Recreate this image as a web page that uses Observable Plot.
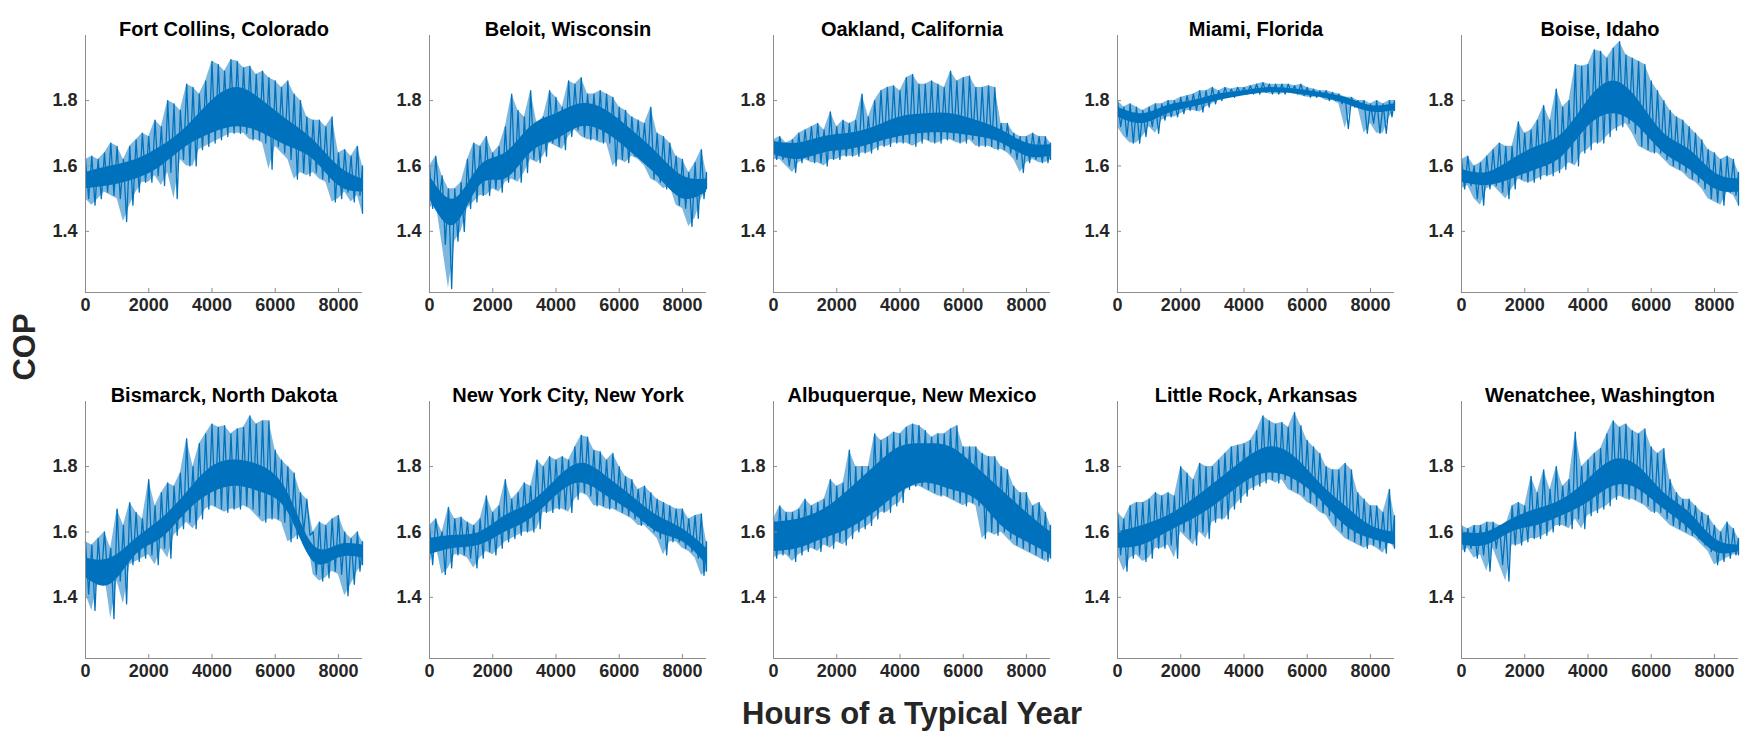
<!DOCTYPE html>
<html><head><meta charset="utf-8">
<script src="https://cdn.jsdelivr.net/npm/d3@7"></script>
<script src="https://cdn.jsdelivr.net/npm/@observablehq/plot@0.6"></script>
<style>
body{margin:0;background:#fff;}
#root{position:relative;width:1756px;height:737px;overflow:hidden;font-family:"Liberation Sans",Arial,Helvetica,sans-serif;}
.panel{position:absolute;width:344px;}
.panel svg{overflow:visible;}
#ylab{position:absolute;left:25px;top:347px;transform:translate(-50%,-50%) rotate(-90deg);font-size:31px;font-weight:bold;color:#262626;white-space:nowrap;}
#xlab{position:absolute;left:912px;top:714px;transform:translate(-50%,-50%);font-size:31px;font-weight:bold;color:#262626;white-space:nowrap;}
</style></head><body><div id="root"><div id="ylab">COP</div><div id="xlab">Hours of a Typical Year</div></div>
<script>
// ---- data (COP per typical-year hour) ----
const HOURS = [0,200,400,600,800,1000,1200,1400,1600,1800,2000,2200,2400,2600,2800,3000,3200,3400,3600,3800,4000,4200,4400,4600,4800,5000,5200,5400,5600,5800,6000,6200,6400,6600,6800,7000,7200,7400,7600,7800,8000,8200,8400,8600,8760];
const CORE_HOURS = [0,800,1600,2400,3200,4000,4800,5600,6400,7200,8000,8760];
const CITY_NAMES = ["Fort Collins, Colorado","Beloit, Wisconsin","Oakland, California","Miami, Florida","Boise, Idaho","Bismarck, North Dakota","New York City, New York","Albuquerque, New Mexico","Little Rock, Arkansas","Wenatchee, Washington"];
const X_TICKS = [0,2000,4000,6000,8000];
const Y_TICKS = [1.4,1.6,1.8];
const Y_DOMAIN = [1.213,1.999];
const X_DOMAIN = [0,8760];

const fortCollinsHi = [1.62,1.63,1.62,1.64,1.67,1.66,1.62,1.66,1.68,1.70,1.69,1.74,1.72,1.80,1.79,1.77,1.85,1.84,1.82,1.86,1.92,1.91,1.89,1.925,1.92,1.90,1.905,1.88,1.89,1.87,1.86,1.84,1.86,1.82,1.80,1.75,1.74,1.74,1.72,1.75,1.64,1.65,1.63,1.66,1.60];
const fortCollinsLo = [1.50,1.48,1.50,1.52,1.51,1.50,1.43,1.48,1.52,1.55,1.55,1.57,1.54,1.58,1.50,1.62,1.60,1.60,1.65,1.66,1.67,1.68,1.69,1.70,1.70,1.70,1.68,1.68,1.67,1.59,1.66,1.64,1.62,1.56,1.58,1.57,1.58,1.56,1.55,1.49,1.50,1.52,1.49,1.51,1.455];
const fortCollinsCoreHi = [1.58,1.60,1.62,1.66,1.72,1.80,1.84,1.80,1.74,1.68,1.60,1.56];
const fortCollinsCoreLo = [1.53,1.54,1.56,1.60,1.66,1.70,1.72,1.70,1.66,1.62,1.54,1.52];

const beloitHi = [1.60,1.63,1.57,1.53,1.53,1.55,1.62,1.67,1.66,1.69,1.64,1.66,1.72,1.82,1.77,1.75,1.83,1.73,1.75,1.83,1.81,1.78,1.86,1.85,1.87,1.82,1.82,1.83,1.82,1.81,1.78,1.77,1.75,1.74,1.73,1.78,1.70,1.69,1.67,1.63,1.62,1.58,1.61,1.65,1.58];
const beloitLo = [1.47,1.49,1.36,1.225,1.37,1.40,1.47,1.49,1.51,1.51,1.53,1.52,1.55,1.56,1.55,1.58,1.62,1.61,1.63,1.67,1.66,1.65,1.69,1.71,1.69,1.68,1.68,1.67,1.67,1.60,1.62,1.61,1.63,1.62,1.60,1.56,1.55,1.53,1.54,1.48,1.47,1.415,1.44,1.50,1.53];
const beloitCoreHi = [1.57,1.50,1.60,1.64,1.72,1.76,1.79,1.77,1.71,1.64,1.57,1.56];
const beloitCoreLo = [1.50,1.42,1.54,1.56,1.64,1.68,1.72,1.70,1.64,1.57,1.50,1.52];

const oaklandHi = [1.68,1.69,1.67,1.68,1.70,1.71,1.72,1.73,1.71,1.765,1.72,1.74,1.73,1.74,1.82,1.75,1.80,1.83,1.84,1.845,1.83,1.87,1.88,1.85,1.85,1.86,1.85,1.84,1.89,1.86,1.87,1.875,1.84,1.84,1.845,1.84,1.73,1.73,1.70,1.69,1.69,1.70,1.69,1.69,1.67];
const oaklandLo = [1.62,1.62,1.60,1.58,1.61,1.62,1.61,1.61,1.60,1.62,1.62,1.63,1.63,1.63,1.64,1.64,1.65,1.66,1.66,1.67,1.67,1.67,1.66,1.67,1.68,1.67,1.67,1.68,1.68,1.67,1.67,1.68,1.66,1.66,1.66,1.65,1.65,1.64,1.62,1.58,1.61,1.62,1.61,1.61,1.62];
const oaklandCoreHi = [1.675,1.67,1.69,1.70,1.72,1.75,1.76,1.76,1.74,1.71,1.67,1.665];
const oaklandCoreLo = [1.635,1.62,1.64,1.65,1.67,1.69,1.70,1.70,1.69,1.67,1.63,1.63];

const miamiHi = [1.80,1.78,1.79,1.78,1.77,1.78,1.79,1.79,1.80,1.80,1.81,1.815,1.82,1.83,1.83,1.84,1.83,1.84,1.835,1.84,1.84,1.845,1.85,1.855,1.85,1.85,1.85,1.85,1.845,1.85,1.84,1.835,1.83,1.83,1.825,1.82,1.81,1.81,1.80,1.80,1.79,1.80,1.79,1.80,1.80];
const miamiLo = [1.72,1.69,1.67,1.67,1.69,1.72,1.70,1.74,1.75,1.75,1.76,1.77,1.77,1.765,1.78,1.79,1.80,1.81,1.81,1.82,1.82,1.82,1.82,1.825,1.82,1.82,1.82,1.825,1.82,1.815,1.81,1.81,1.81,1.80,1.80,1.79,1.715,1.78,1.78,1.70,1.73,1.70,1.70,1.75,1.77];
const miamiCoreHi = [1.78,1.76,1.785,1.80,1.82,1.83,1.84,1.835,1.825,1.81,1.785,1.79];
const miamiCoreLo = [1.75,1.73,1.76,1.78,1.80,1.815,1.825,1.82,1.81,1.79,1.765,1.77];

const boiseHi = [1.62,1.63,1.60,1.61,1.63,1.65,1.67,1.66,1.66,1.735,1.70,1.71,1.74,1.785,1.74,1.835,1.78,1.80,1.91,1.905,1.91,1.955,1.95,1.93,1.96,1.98,1.94,1.93,1.92,1.91,1.86,1.83,1.80,1.77,1.75,1.74,1.72,1.70,1.68,1.65,1.64,1.62,1.63,1.62,1.58];
const boiseLo = [1.53,1.54,1.50,1.48,1.53,1.54,1.52,1.50,1.53,1.56,1.55,1.55,1.56,1.57,1.57,1.58,1.59,1.61,1.60,1.64,1.65,1.67,1.67,1.69,1.71,1.72,1.73,1.70,1.66,1.65,1.64,1.64,1.62,1.60,1.59,1.58,1.56,1.55,1.53,1.50,1.49,1.48,1.52,1.51,1.48];
const boiseCoreHi = [1.59,1.58,1.62,1.66,1.70,1.80,1.86,1.80,1.70,1.65,1.58,1.56];
const boiseCoreLo = [1.55,1.54,1.56,1.59,1.63,1.72,1.76,1.72,1.64,1.59,1.53,1.52];

const bismarckHi = [1.57,1.56,1.58,1.60,1.55,1.67,1.62,1.69,1.66,1.64,1.76,1.68,1.72,1.75,1.74,1.78,1.885,1.80,1.87,1.90,1.93,1.92,1.925,1.90,1.915,1.92,1.955,1.93,1.94,1.94,1.85,1.82,1.80,1.78,1.72,1.70,1.60,1.63,1.62,1.64,1.65,1.60,1.58,1.60,1.57];
const bismarckLo = [1.41,1.36,1.45,1.47,1.335,1.45,1.38,1.50,1.51,1.52,1.53,1.50,1.55,1.52,1.59,1.61,1.63,1.61,1.64,1.67,1.68,1.67,1.66,1.67,1.67,1.68,1.67,1.65,1.63,1.64,1.64,1.63,1.57,1.58,1.60,1.59,1.47,1.45,1.46,1.48,1.47,1.405,1.44,1.48,1.50];
const bismarckCoreHi = [1.52,1.52,1.58,1.64,1.72,1.80,1.82,1.80,1.72,1.56,1.56,1.56];
const bismarckCoreLo = [1.46,1.44,1.53,1.58,1.66,1.72,1.74,1.72,1.66,1.51,1.52,1.52];

const newYorkHi = [1.62,1.64,1.60,1.675,1.64,1.645,1.63,1.62,1.64,1.71,1.66,1.68,1.76,1.70,1.72,1.75,1.74,1.82,1.80,1.83,1.82,1.83,1.82,1.86,1.895,1.89,1.85,1.845,1.82,1.84,1.80,1.77,1.76,1.73,1.74,1.72,1.70,1.69,1.68,1.67,1.67,1.64,1.65,1.655,1.57];
const newYorkLo = [1.50,1.56,1.47,1.49,1.53,1.53,1.52,1.49,1.52,1.54,1.53,1.55,1.57,1.58,1.59,1.60,1.60,1.61,1.66,1.66,1.67,1.67,1.66,1.70,1.72,1.71,1.68,1.68,1.67,1.67,1.66,1.65,1.64,1.62,1.62,1.60,1.58,1.53,1.57,1.57,1.55,1.54,1.52,1.467,1.48];
const newYorkCoreHi = [1.58,1.59,1.60,1.65,1.69,1.76,1.81,1.77,1.71,1.65,1.61,1.55];
const newYorkCoreLo = [1.53,1.55,1.56,1.60,1.64,1.71,1.75,1.71,1.66,1.60,1.57,1.50];

const albuquerqueHi = [1.64,1.68,1.66,1.66,1.67,1.70,1.68,1.69,1.70,1.76,1.74,1.75,1.85,1.80,1.80,1.80,1.90,1.88,1.89,1.905,1.90,1.92,1.93,1.925,1.91,1.89,1.90,1.90,1.915,1.925,1.86,1.86,1.86,1.84,1.83,1.83,1.80,1.79,1.74,1.72,1.72,1.68,1.69,1.66,1.62];
const albuquerqueLo = [1.52,1.53,1.53,1.51,1.53,1.54,1.55,1.54,1.56,1.55,1.57,1.56,1.58,1.60,1.61,1.62,1.64,1.66,1.66,1.68,1.69,1.73,1.74,1.74,1.73,1.72,1.71,1.71,1.70,1.69,1.68,1.69,1.68,1.58,1.60,1.59,1.60,1.58,1.56,1.55,1.54,1.53,1.52,1.51,1.52];
const albuquerqueCoreHi = [1.63,1.64,1.67,1.73,1.80,1.86,1.87,1.86,1.80,1.73,1.66,1.60];
const albuquerqueCoreLo = [1.54,1.55,1.58,1.61,1.66,1.72,1.75,1.73,1.70,1.62,1.57,1.53];

const littleRockHi = [1.66,1.64,1.68,1.69,1.69,1.70,1.72,1.71,1.72,1.71,1.80,1.78,1.76,1.81,1.80,1.80,1.82,1.84,1.86,1.865,1.87,1.88,1.91,1.955,1.94,1.93,1.935,1.92,1.965,1.925,1.88,1.86,1.84,1.80,1.79,1.79,1.81,1.79,1.72,1.70,1.68,1.68,1.66,1.73,1.65];
const littleRockLo = [1.53,1.48,1.52,1.53,1.51,1.52,1.55,1.55,1.56,1.52,1.60,1.58,1.56,1.60,1.58,1.63,1.64,1.64,1.67,1.69,1.71,1.73,1.74,1.75,1.76,1.75,1.76,1.73,1.72,1.71,1.69,1.68,1.66,1.65,1.62,1.60,1.58,1.57,1.56,1.55,1.56,1.55,1.535,1.57,1.55];
const littleRockCoreHi = [1.60,1.62,1.65,1.70,1.76,1.82,1.86,1.83,1.75,1.68,1.62,1.60];
const littleRockCoreLo = [1.55,1.56,1.60,1.64,1.69,1.75,1.78,1.76,1.70,1.62,1.58,1.56];

const wenatcheeHi = [1.62,1.61,1.62,1.62,1.63,1.63,1.62,1.62,1.68,1.69,1.68,1.77,1.72,1.79,1.73,1.80,1.74,1.76,1.905,1.80,1.82,1.84,1.855,1.90,1.94,1.92,1.93,1.91,1.90,1.915,1.86,1.84,1.855,1.76,1.72,1.70,1.70,1.68,1.66,1.65,1.62,1.60,1.63,1.61,1.58];
const wenatcheeLo = [1.54,1.55,1.52,1.53,1.48,1.55,1.50,1.45,1.56,1.56,1.57,1.58,1.58,1.59,1.60,1.62,1.62,1.61,1.64,1.61,1.65,1.66,1.67,1.68,1.70,1.71,1.70,1.70,1.69,1.68,1.66,1.66,1.64,1.62,1.61,1.60,1.59,1.58,1.56,1.54,1.50,1.51,1.52,1.53,1.53];
const wenatcheeCoreHi = [1.60,1.60,1.64,1.67,1.70,1.76,1.82,1.80,1.72,1.66,1.58,1.56];
const wenatcheeCoreLo = [1.56,1.56,1.60,1.62,1.65,1.69,1.74,1.73,1.67,1.61,1.54,1.54];

// ---- assemble ----
const SERIES = [
  [fortCollinsHi, fortCollinsLo, fortCollinsCoreHi, fortCollinsCoreLo],
  [beloitHi, beloitLo, beloitCoreHi, beloitCoreLo],
  [oaklandHi, oaklandLo, oaklandCoreHi, oaklandCoreLo],
  [miamiHi, miamiLo, miamiCoreHi, miamiCoreLo],
  [boiseHi, boiseLo, boiseCoreHi, boiseCoreLo],
  [bismarckHi, bismarckLo, bismarckCoreHi, bismarckCoreLo],
  [newYorkHi, newYorkLo, newYorkCoreHi, newYorkCoreLo],
  [albuquerqueHi, albuquerqueLo, albuquerqueCoreHi, albuquerqueCoreLo],
  [littleRockHi, littleRockLo, littleRockCoreHi, littleRockCoreLo],
  [wenatcheeHi, wenatcheeLo, wenatcheeCoreHi, wenatcheeCoreLo]
];

const BLUE = "#0072BD";
const AXIS = "#8c8c8c";
const TEXT = "#262626";
const PANEL_LEFT = [85, 429, 773, 1117, 1461]; // x of each panel's y-axis
const ROW_TOP = [0, 366];
const ML = 60, MR = 7, MT = 35, MB = 40, PW = 277, PH = 257;

const root = document.getElementById("root");

SERIES.forEach(([hi, lo, cHi, cLo], k) => {
  const col = k % 5, row = Math.floor(k / 5);
  // zig-zag trace through the read peaks (hi) and troughs (lo) of each 200-h window
  const zig = [];
  HOURS.forEach((h, i) => {
    const next = i < HOURS.length - 1 ? HOURS[i + 1] : h;
    zig.push({h, v: hi[i]});
    zig.push({h: (h + next) / 2, v: lo[i]});
  });
  const env = HOURS.map((h, i) => ({h, hi: hi[i], lo: lo[i]}));
  const core = CORE_HOURS.map((h, i) => ({h, hi: cHi[i], lo: cLo[i]}));

  const chart = Plot.plot({
    width: ML + PW + MR,
    height: MT + PH + MB,
    marginLeft: ML, marginRight: MR, marginTop: MT, marginBottom: MB,
    x: {domain: X_DOMAIN, label: null},
    y: {domain: Y_DOMAIN, label: null},
    style: {fontFamily: '"Liberation Sans", Arial, Helvetica, sans-serif', fontSize: "18px", fontWeight: "bold", color: TEXT, background: "transparent", overflow: "visible"},
    marks: [
      Plot.areaY(env, {x: "h", y1: "lo", y2: "hi", fill: BLUE, fillOpacity: 0.5}),
      Plot.areaY(core, {x: "h", y1: "lo", y2: "hi", fill: BLUE, fillOpacity: 1, curve: "natural"}),
      Plot.line(zig, {x: "h", y: "v", stroke: BLUE, strokeWidth: 1.3}),
      Plot.ruleX([X_DOMAIN[0]], {stroke: AXIS, strokeWidth: 1}),
      Plot.ruleY([Y_DOMAIN[0]], {stroke: AXIS, strokeWidth: 1}),
      Plot.axisX(X_TICKS, {tickSize: -4, tickPadding: 10, tickFormat: d3.format("d"), stroke: AXIS, fill: TEXT, fontSize: 18, fontWeight: "bold"}),
      Plot.axisY(Y_TICKS, {tickSize: -4, tickPadding: 12, tickFormat: d3.format(".1f"), stroke: AXIS, fill: TEXT, fontSize: 18, fontWeight: "bold"}),
      Plot.text([CITY_NAMES[k]], {text: d => d, frameAnchor: "top", dy: -14, fontSize: 20, fontWeight: "bold", fill: "#000"})
    ]
  });
  const div = document.createElement("div");
  div.className = "panel";
  div.style.left = (PANEL_LEFT[col] - ML) + "px";
  div.style.top = ROW_TOP[row] + "px";
  div.appendChild(chart);
  root.appendChild(div);
});
</script>
</body></html>
